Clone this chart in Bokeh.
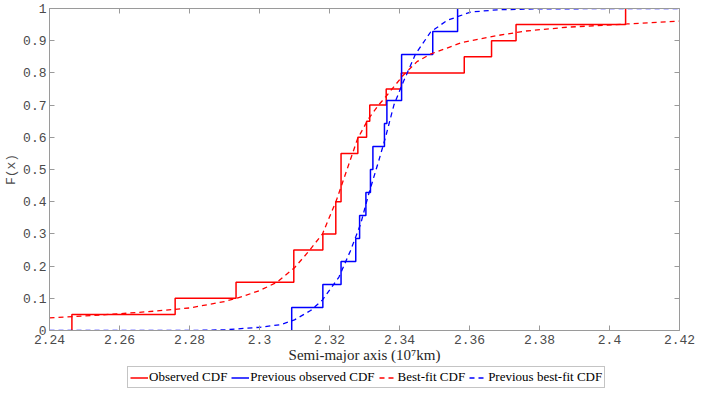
from bokeh.plotting import figure
from bokeh.layouts import column
from bokeh.models import (Range1d, LinearAxis, Legend, LegendItem,
                          CustomJSTickFormatter, FixedTicker)
from bokeh.embed import file_html
from bokeh.resources import INLINE

# Observed CDF (step positions and cumulative values)
obs_x = [2.2464, 2.2759, 2.2933, 2.3098, 2.3181, 2.3218, 2.3233, 2.3281,
         2.3306, 2.3315, 2.3362, 2.3405, 2.3585, 2.3663, 2.3733, 2.4046]
obs_F = [0.05, 0.10, 0.15, 0.25, 0.30, 0.40, 0.55, 0.60,
         0.65, 0.70, 0.75, 0.80, 0.85, 0.90, 0.95, 1.00]

# Previous observed CDF
prev_x = [2.3092, 2.3181, 2.3233, 2.3275, 2.3286, 2.3304, 2.3317, 2.3324,
          2.3357, 2.3364, 2.3406, 2.3495, 2.3566]
prev_F = [0.0714, 0.1429, 0.2143, 0.2857, 0.3571, 0.4286, 0.5, 0.5714,
          0.6429, 0.7143, 0.8571, 0.9286, 1.0]

# Best-fit CDF
fit_x = [2.240, 2.250, 2.260, 2.270, 2.280, 2.290, 2.295, 2.300, 2.305,
         2.310, 2.314, 2.318, 2.322, 2.325, 2.328, 2.331, 2.334, 2.336,
         2.341, 2.345, 2.349, 2.358, 2.368, 2.376, 2.388, 2.405, 2.420]
fit_F = [0.039, 0.045, 0.052, 0.060, 0.070, 0.090, 0.105, 0.124, 0.150,
         0.195, 0.245, 0.300, 0.405, 0.500, 0.595, 0.655, 0.700, 0.725,
         0.792, 0.835, 0.859, 0.895, 0.916, 0.930, 0.942, 0.952, 0.961]

# Previous best-fit CDF
pfit_x = [2.240, 2.280, 2.290, 2.300, 2.306, 2.310, 2.3146, 2.318, 2.3227,
          2.326, 2.3289, 2.3312, 2.3341, 2.336, 2.3384, 2.3408, 2.3446,
          2.3489, 2.3536, 2.3603, 2.368, 2.380, 2.420]
pfit_F = [0.000, 0.000, 0.002, 0.010, 0.018, 0.033, 0.062, 0.095, 0.166,
          0.248, 0.331, 0.424, 0.528, 0.600, 0.700, 0.765, 0.859,
          0.927, 0.963, 0.989, 0.996, 0.999, 1.000]

x_ticks = [2.24, 2.26, 2.28, 2.30, 2.32, 2.34, 2.36, 2.38, 2.40, 2.42]
y_ticks = [0, 0.1, 0.2, 0.3, 0.4, 0.5, 0.6, 0.7, 0.8, 0.9, 1.0]
legend_labels = ["Observed CDF", "Previous observed CDF",
                 "Best-fit CDF", "Previous best-fit CDF"]

RED = "#ff0000"
BLUE = "#0000ff"
AXC = "#9a9a9a"
TXT = "#4a4a4a"
styles = [dict(line_color=RED, line_width=1.5),
          dict(line_color=BLUE, line_width=1.5),
          dict(line_color=RED, line_width=1.3, line_dash="5 4"),
          dict(line_color=BLUE, line_width=1.3, line_dash="5 4")]

p = figure(width=708, height=367, frame_height=322, output_backend="svg",
           toolbar_location=None,
           x_range=Range1d(2.24, 2.42), y_range=Range1d(0, 1),
           min_border_left=49, min_border_right=29, min_border_top=8,
           min_border_bottom=0)
p.outline_line_color = None
p.xgrid.visible = False
p.ygrid.visible = False
p.background_fill_color = "white"
p.border_fill_color = "white"

fmt_code = "return parseFloat(tick.toFixed(2)).toString();"

def style_axis(ax, labels=True):
    ax.axis_line_color = AXC
    ax.major_tick_line_color = AXC
    ax.major_tick_in = 5
    ax.major_tick_out = 0
    ax.minor_tick_line_color = None
    ax.major_label_text_font = "Liberation Mono"
    ax.major_label_text_font_size = "13px"
    ax.major_label_text_color = TXT
    if not labels:
        ax.major_label_text_font_size = "0px"
        ax.major_label_standoff = 0

xa = p.xaxis[0]
xa.ticker = FixedTicker(ticks=x_ticks)
xa.formatter = CustomJSTickFormatter(code=fmt_code)
style_axis(xa)
xa.major_label_standoff = 4
xa.axis_label = "Semi-major axis (10\u2077km)"
xa.axis_label_text_font = "Liberation Serif"
xa.axis_label_text_font_style = "normal"
xa.axis_label_text_font_size = "15px"
xa.axis_label_text_color = "#262626"
xa.axis_label_standoff = 0

ya = p.yaxis[0]
ya.ticker = FixedTicker(ticks=y_ticks)
ya.formatter = CustomJSTickFormatter(code=fmt_code)
style_axis(ya)
ya.major_label_standoff = 3
ya.axis_label = "F(x)"
ya.axis_label_text_font = "Liberation Mono"
ya.axis_label_text_font_style = "normal"
ya.axis_label_text_font_size = "13px"
ya.axis_label_text_color = TXT
ya.axis_label_standoff = 1

top = LinearAxis(ticker=FixedTicker(ticks=x_ticks),
                 formatter=CustomJSTickFormatter(code="return '';"))
style_axis(top, labels=False)
p.add_layout(top, "above")
right = LinearAxis(ticker=FixedTicker(ticks=y_ticks),
                   formatter=CustomJSTickFormatter(code="return '';"))
style_axis(right, labels=False)
p.add_layout(right, "right")

p.step([obs_x[0]] + obs_x, [0] + obs_F, mode="after", **styles[0])
p.step([prev_x[0]] + prev_x, [0] + prev_F, mode="after", **styles[1])
p.line(fit_x, fit_F, **styles[2])
p.line(pfit_x, pfit_F, **styles[3])

# Legend strip below the axes (its sample lines lie outside its range)
q = figure(width=708, height=26, output_backend="svg", toolbar_location=None,
           x_range=Range1d(0, 1), y_range=Range1d(0, 1),
           x_axis_location=None, y_axis_location=None,
           min_border_left=0, min_border_right=0, min_border_top=0,
           min_border_bottom=0)
q.xgrid.visible = False
q.ygrid.visible = False
q.outline_line_color = None
q.border_fill_color = "white"
q.background_fill_color = "white"

items = []
for lab, st in zip(legend_labels, styles):
    r = q.line([-2, -1], [-2, -1], **st)
    items.append(LegendItem(label=lab, renderers=[r]))

legend = Legend(items=items, orientation="horizontal", location=(78, 3))
legend.label_text_font = "Liberation Serif"
legend.label_text_font_size = "13px"
legend.label_text_color = "#000000"
legend.glyph_width = 18
legend.glyph_height = 15
legend.label_height = 15
legend.label_standoff = 1
legend.spacing = 4
legend.padding = 2
legend.margin = 0
legend.border_line_color = "#8a8a8a"
legend.border_line_width = 1
legend.background_fill_color = "white"
q.add_layout(legend, "center")

layout = column(p, q, spacing=0)
open("out.html", "w").write(file_html(layout, INLINE))
